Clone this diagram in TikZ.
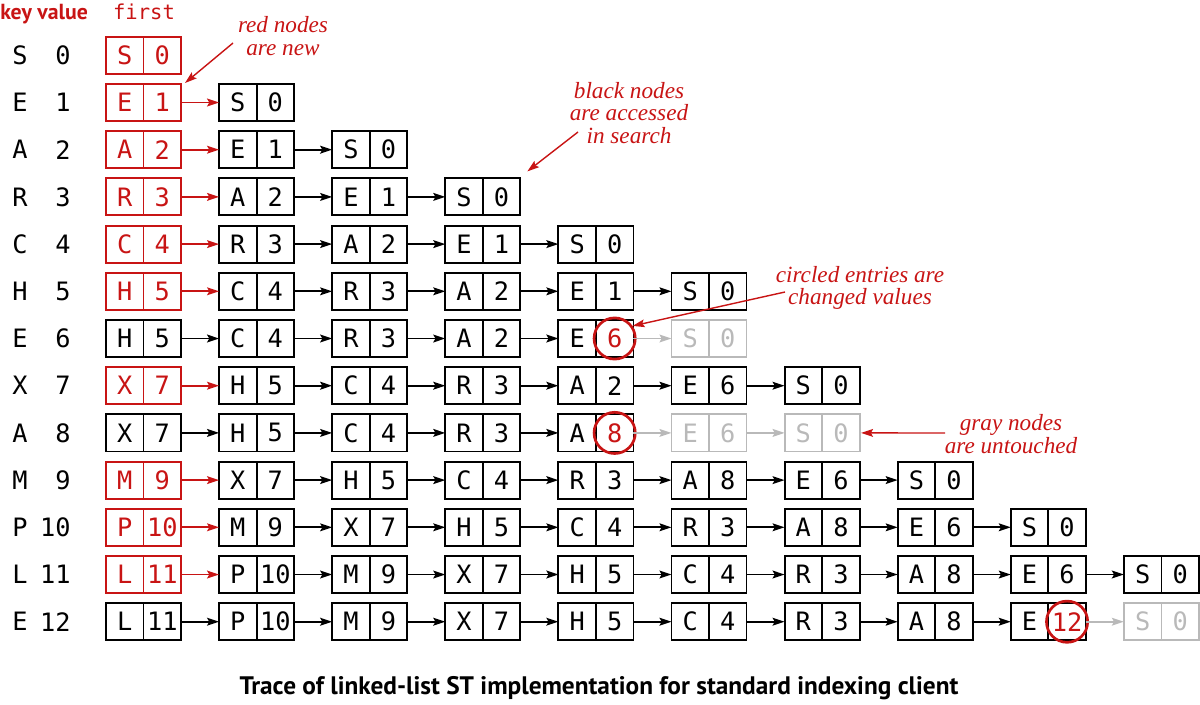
\documentclass[tikz,border=0pt]{standalone}
\usepackage{fontspec}
\setmonofont{DejaVu Sans Mono}
\newfontfamily\notefont{Liberation Serif}
\newfontfamily\headfont{PT Sans}
\usetikzlibrary{positioning,arrows.meta}
\definecolor{redink}{RGB}{200,20,20}
\definecolor{grayink}{RGB}{185,185,185}

\begin{document}
\begin{tikzpicture}
  [x=0.025cm, y=-0.025cm, >={Stealth[length=8.5pt,width=5.5pt,inset=1.5pt]},
   every node/.style={font=\ttfamily\fontsize{18}{18}\selectfont},
   cell/.style={rectangle, draw, line width=1.3pt, minimum width=0.9375cm,
     minimum height=0.925cm, inner sep=0pt, outer sep=0pt},
   box n/.style={draw=redink, text=redink},
   box b/.style={draw=black, text=black},
   box g/.style={draw=grayink, text=grayink},
   box c/.style={draw=black, text=black},
   val n/.style={}, val b/.style={}, val g/.style={},
   val c/.style={text=redink},
   ring/.style={circle, draw=redink, line width=1.9pt, minimum size=1.03cm, inner sep=0pt},
   link/.style={->, line width=1.4pt},
   link nb/.style={link, redink},
   link bb/.style={link, black},
   link bc/.style={link, black},
   link cg/.style={link, grayink},
   link gg/.style={link, grayink},
   note/.style={font=\notefont\itshape\fontsize{16.5}{15.8}\selectfont, text=redink, align=center},
   note arrow/.style={->, line width=1pt, draw=redink}]
  \useasboundingbox (0,0) rectangle (1200,704);

  % headers
  \node[anchor=west, inner sep=0pt, text=redink, font=\headfont\bfseries\fontsize{15.5}{15.5}\selectfont]
    (keyhead) at (0,14) {key value};
  \node[text=redink, font=\ttfamily\fontsize{14.6}{15}\selectfont] (firsthead) at (144,12) {first};

  % one row per put()
  \foreach \rw/\ky/\vl/\chain in {
      0/S/0/{S/0/n},
      1/E/1/{E/1/n, S/0/b},
      2/A/2/{A/2/n, E/1/b, S/0/b},
      3/R/3/{R/3/n, A/2/b, E/1/b, S/0/b},
      4/C/4/{C/4/n, R/3/b, A/2/b, E/1/b, S/0/b},
      5/H/5/{H/5/n, C/4/b, R/3/b, A/2/b, E/1/b, S/0/b},
      6/E/6/{H/5/b, C/4/b, R/3/b, A/2/b, E/6/c, S/0/g},
      7/X/7/{X/7/n, H/5/b, C/4/b, R/3/b, A/2/b, E/6/b, S/0/b},
      8/A/8/{X/7/b, H/5/b, C/4/b, R/3/b, A/8/c, E/6/g, S/0/g},
      9/M/9/{M/9/n, X/7/b, H/5/b, C/4/b, R/3/b, A/8/b, E/6/b, S/0/b},
      10/P/10/{P/10/n, M/9/b, X/7/b, H/5/b, C/4/b, R/3/b, A/8/b, E/6/b, S/0/b},
      11/L/11/{L/11/n, P/10/b, M/9/b, X/7/b, H/5/b, C/4/b, R/3/b, A/8/b, E/6/b, S/0/b},
      12/E/12/{L/11/b, P/10/b, M/9/b, X/7/b, H/5/b, C/4/b, R/3/b, A/8/b, E/12/c, S/0/g}}{
    \node (key\rw) at (20, {55.3+47.2*\rw}) {\ky};
    \node[anchor=east, inner sep=0pt] (val\rw) at (71, {55.3+47.2*\rw}) {\vl};
    \foreach \nk/\nv/\ty [count=\col from 0] in \chain {
      \node[cell, box \ty] (n\rw-\col-k) at ({124.75+113.1*\col}, {55.3+47.2*\rw}) {\nk};
      \node[cell, box \ty, val \ty, right=0pt of n\rw-\col-k] (n\rw-\col-v) {\nv};
      \ifnum\col>0
        \draw[link \prevty\ty] (\prevnode.east) -- (n\rw-\col-k.west);
      \fi
      \if c\ty
        \node[ring] (ring\rw) at (n\rw-\col-v) {};
      \fi
      \xdef\prevty{\ty}
      \xdef\prevnode{n\rw-\col-v}
    }
  }

  % notes
  \node[note] (notenew) at (283,36) {red nodes\\are new};
  \coordinate (tailnew) at (233,43);
  \draw[note arrow] (tailnew) -- ([shift={(4,-1)}]n1-0-v.north east);

  \node[note] (noteblack) at (629,113) {black nodes\\are accessed\\in search};
  \coordinate (tailblack) at (578,132);
  \draw[note arrow] (tailblack) -- ([shift={(7,-7)}]n3-3-v.north east);

  \node[note] (notering) at (860,288) {circled entries are\\changed values};
  \coordinate (tailring) at (785,292);
  \draw[note arrow] (tailring) -- (ring6.35);

  \node[note] (notegray) at (1011,434) {gray nodes\\are untouched};
  \coordinate (tailgray) at (945,433);
  \draw[note arrow] (tailgray) -- ([xshift=1pt]n8-6-v.east);

  \node[font=\headfont\bfseries\fontsize{18}{18}\selectfont] (caption) at (599,688)
    {Trace of linked-list ST implementation for standard indexing client};
\end{tikzpicture}
\end{document}
